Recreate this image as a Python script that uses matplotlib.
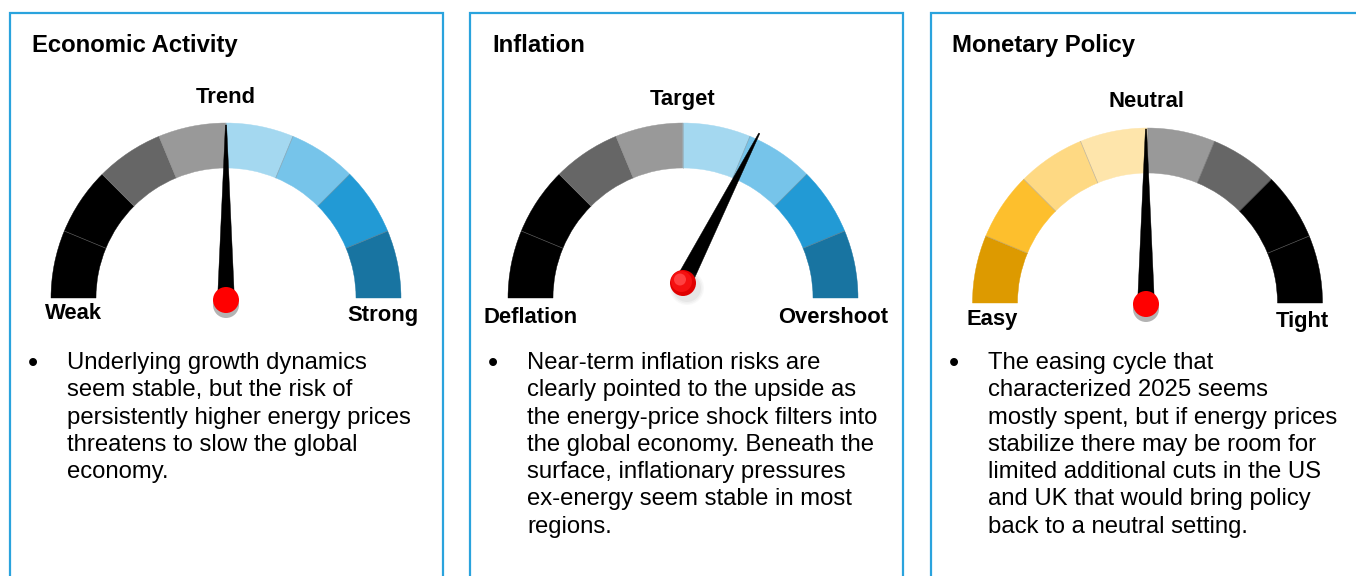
import matplotlib
matplotlib.use("Agg")
import matplotlib.pyplot as plt
import numpy as np
from matplotlib.patches import Wedge, Circle, Polygon
from matplotlib.lines import Line2D

plt.rcParams['font.family'] = ['Liberation Sans', 'DejaVu Sans']

# ---------------- data ----------------
titles = ["Economic Activity", "Inflation", "Monetary Policy"]
left_labels = ["Weak", "Deflation", "Easy"]
mid_labels = ["Trend", "Target", "Neutral"]
right_labels = ["Strong", "Overshoot", "Tight"]
# needle position on a 0 (left end) .. 100 (right end) scale
needle_values = [50, 65, 50]

econ_colors = ['#000000', '#000000', '#666666', '#999999',
               '#A4D8F0', '#76C4EA', '#229AD5', '#1874A1']
infl_colors = ['#000000', '#000000', '#666666', '#999999',
               '#A4D8F0', '#76C4EA', '#229AD5', '#1874A1']
mon_colors = ['#DD9A00', '#FDBF2D', '#FED983', '#FEE5AB',
              '#999999', '#666666', '#000000', '#000000']
segment_colors = [econ_colors, infl_colors, mon_colors]

econ_text = ["Underlying growth dynamics",
             "seem stable, but the risk of",
             "persistently higher energy prices",
             "threatens to slow the global",
             "economy."]
infl_text = ["Near-term inflation risks are",
             "clearly pointed to the upside as",
             "the energy-price shock filters into",
             "the global economy. Beneath the",
             "surface, inflationary pressures",
             "ex-energy seem stable in most",
             "regions."]
mon_text = ["The easing cycle that",
            "characterized 2025 seems",
            "mostly spent, but if energy prices",
            "stabilize there may be room for",
            "limited additional cuts in the US",
            "and UK that would bring policy",
            "back to a neutral setting."]
bullet_texts = [econ_text, infl_text, mon_text]

# ---------------- layout (pixel coordinates, y measured from top) ----------------
W, H = 1356, 576
panel_left = [10, 470, 931]
panel_right = [443, 903, None]
panel_top = 13
gauge_center = [(226, 298), (683, 298), (1147.5, 303)]
gauge_pivot = [(226, 300), (683, 283), (1146, 304)]
needle_len = [175, 168, 175]
R_out, R_in = 175, 130
mid_label_pos = [(226, 103), (682.5, 105), (1146.5, 107)]
left_label_pos = [(73, 319), (530.5, 323), (992.5, 325)]
right_label_pos = [(382.5, 321), (833, 323), (1302, 327)]
title_x = [32, 492, 952]
text_x = [67, 527, 988]
bullet_x = [33, 493, 954]
first_baseline = 369
line_step = 27.3

BORDER = '#2AA3DD'


def Y(y):
    return H - y


fig = plt.figure(figsize=(W / 100, H / 100), dpi=100)
ax = fig.add_axes([0, 0, 1, 1])
ax.set_xlim(0, W)
ax.set_ylim(0, H)
ax.axis('off')

for i in range(3):
    # panel border (open at bottom)
    xl = panel_left[i]
    xr = panel_right[i]
    if xr is None:
        ax.add_line(Line2D([xl, xl, W + 5], [Y(H + 5), Y(panel_top), Y(panel_top)],
                           color=BORDER, lw=1.6, solid_joinstyle='miter'))
    else:
        ax.add_line(Line2D([xl, xl, xr, xr], [Y(H + 5), Y(panel_top), Y(panel_top), Y(H + 5)],
                           color=BORDER, lw=1.6, solid_joinstyle='miter'))

    # title
    ax.text(title_x[i], Y(52.3), titles[i], fontsize=17.2, fontweight='bold',
            ha='left', va='baseline', color='#000000')

    # gauge segments
    cx, cy = gauge_center[i]
    cols = segment_colors[i]
    n = len(cols)
    step = 180.0 / n
    for k, c in enumerate(cols):
        t2 = 180 - k * step
        t1 = t2 - step
        ax.add_patch(Wedge((cx, Y(cy)), R_out, t1, t2, width=R_out - R_in,
                           facecolor=c, edgecolor=c, lw=0.3, zorder=2))
    for k in range(1, n):
        a = np.deg2rad(180 - k * step)
        ax.add_line(Line2D([cx + R_in * np.cos(a), cx + R_out * np.cos(a)],
                           [Y(cy) + R_in * np.sin(a), Y(cy) + R_out * np.sin(a)],
                           color=(0.55, 0.55, 0.55, 0.55), lw=0.5, zorder=3))

    # gauge labels
    ax.text(mid_label_pos[i][0], Y(mid_label_pos[i][1]), mid_labels[i], fontsize=15.8,
            fontweight='bold', ha='center', va='baseline')
    ax.text(left_label_pos[i][0], Y(left_label_pos[i][1]), left_labels[i], fontsize=15.8,
            fontweight='bold', ha='center', va='baseline')
    ax.text(right_label_pos[i][0], Y(right_label_pos[i][1]), right_labels[i], fontsize=15.8,
            fontweight='bold', ha='center', va='baseline')

    # needle
    px, py = gauge_pivot[i]
    ang = np.deg2rad(180 - needle_values[i] * 1.8)
    d = np.array([np.cos(ang), np.sin(ang)])
    nrm = np.array([-d[1], d[0]])
    base = np.array([px, Y(py)])
    tip = base + d * needle_len[i]
    hw = 8.5
    ax.add_patch(Polygon([base + nrm * hw, tip + nrm * 0.6, tip - nrm * 0.6, base - nrm * hw],
                         closed=True, facecolor='black', edgecolor='black', lw=0.3, zorder=5))

    # pivot ball with shadow
    if i == 1:
        for s, al in [(17, 0.05), (15.5, 0.07), (14, 0.09)]:
            ax.add_patch(Circle((px + 4, Y(py) - 5), s, facecolor='#888888',
                                edgecolor='none', alpha=al, zorder=6))
        ax.add_patch(Circle((px, Y(py)), 13, facecolor='#E00000', edgecolor='none', zorder=7))
        ax.add_patch(Circle((px - 1.5, Y(py) + 1.5), 10.5, facecolor='#F51010', edgecolor='none', zorder=7))
        ax.add_patch(Circle((px - 3, Y(py) + 3.5), 6, facecolor='#FF4040', edgecolor='none', zorder=7))
    else:
        ax.add_patch(Circle((px, Y(py) - 5), 13, facecolor='#B3B3B3', edgecolor='none', zorder=6))
        ax.add_patch(Circle((px, Y(py)), 13, facecolor='#FF0000', edgecolor='none', zorder=7))

    # bullet text
    for j, line in enumerate(bullet_texts[i]):
        ax.text(text_x[i], Y(first_baseline + j * line_step), line, fontsize=17.2,
                ha='left', va='baseline', color='#000000')
    ax.text(bullet_x[i], Y(first_baseline + 3), "\u2022", fontsize=21,
            ha='center', va='baseline', color='#000000')

fig.savefig("out.png", dpi=100, facecolor='white')
